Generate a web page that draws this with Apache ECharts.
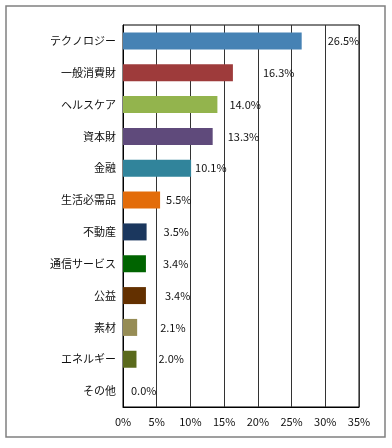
<!DOCTYPE html>
<html><head><meta charset="utf-8">
<script src="https://cdn.jsdelivr.net/npm/echarts@6/dist/echarts.min.js"></script>
<style>html,body{margin:0;padding:0;background:#fff}#c{width:392px;height:448px}</style>
</head><body><div id="c"></div>
<script>
const categories = ['テクノロジー','一般消費財','ヘルスケア','資本財','金融','生活必需品','不動産','通信サービス','公益','素材','エネルギー','その他'];
const values = [26.5,16.3,14.0,13.3,10.1,5.5,3.5,3.4,3.4,2.1,2.0,0.0];
const barColors = ['#4682b4','#9e3b3b','#93b44d','#5f4a7b','#31849b','#e36c0a','#1b375e','#006400','#633000','#968c55','#5a6a1c','#888888'];
const labelGaps = [26,30,12,15,4,6,17,17,19,23,22,8];
const tickValues = [0,5,10,15,20,25,30,35];

const font = '"Noto Sans CJK JP", sans-serif';
const chart = echarts.init(document.getElementById('c'), null, {renderer:'canvas'});
chart.setOption({
  animation:false,
  graphic:[{type:'rect',shape:{x:6,y:6,width:379,height:431},style:{fill:'none',stroke:'#808080',lineWidth:1.5},z:-1}],
  grid:{left:123,top:25,width:236,height:382,show:true,borderColor:'#000',borderWidth:1,backgroundColor:'transparent'},
  xAxis:{type:'value',min:0,max:35,interval:5,
    axisLine:{show:true,lineStyle:{color:'#000',width:1}},
    axisTick:{show:false},
    splitLine:{show:true,lineStyle:{color:'#333',width:1}},
    axisLabel:{formatter:v=>v+'%',color:'#111',fontSize:11,fontFamily:font,margin:9}},
  yAxis:{type:'category',data:categories,inverse:true,
    axisLine:{show:true,lineStyle:{color:'#000',width:1}},
    axisTick:{show:false},
    axisLabel:{color:'#111',fontSize:11,fontFamily:font,margin:7}},
  series:[{type:'bar',barWidth:17,
    data:values.map((v,i)=>({value:v,itemStyle:{color:barColors[i]},
      label:{show:true,position:'right',distance:labelGaps[i]}})),
    label:{formatter:p=>p.value.toFixed(1)+'%',color:'#111',fontSize:11,fontFamily:font}}]
});
</script></body></html>
